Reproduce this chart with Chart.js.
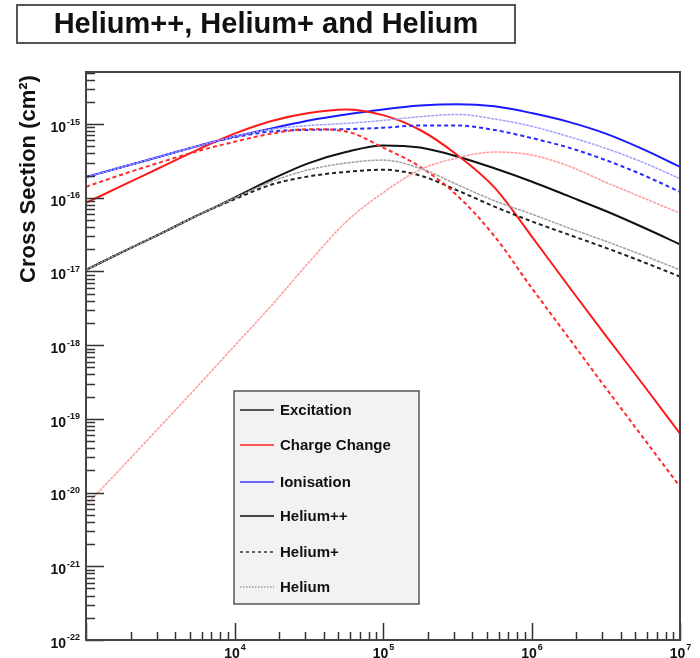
<!DOCTYPE html>
<html>
<head>
<meta charset="utf-8">
<script src="https://cdn.jsdelivr.net/npm/chart.js@4"></script>
<style>
  html, body { margin: 0; padding: 0; background: #ffffff; }
  #wrap { position: relative; width: 700px; height: 658px; overflow: hidden; }
</style>
</head>
<body>
<div id="wrap"><canvas id="c" width="700" height="658"></canvas></div>
<script>
// Projectile energy samples (eV), a quarter decade apart
const energies = [1000, 1778, 3162, 5623, 10000, 17783, 31623, 56234, 100000,
  177828, 316228, 562341, 1000000, 1778279, 3162278, 5623413, 10000000];

// Cross sections (cm^2) — excitation
const excHe2 = [1.05e-17, 1.86e-17, 3.24e-17, 5.75e-17, 1.0e-16, 1.78e-16, 2.95e-16, 4.17e-16, 5.13e-16,
  4.79e-16, 3.63e-16, 2.51e-16, 1.66e-16, 1.05e-16, 6.6e-17, 3.98e-17, 2.34e-17];
const excHe1 = [1.05e-17, 1.86e-17, 3.24e-17, 5.75e-17, 9.55e-17, 1.51e-16, 1.95e-16, 2.24e-16, 2.40e-16,
  2.0e-16, 1.26e-16, 7.59e-17, 4.79e-17, 3.16e-17, 2.09e-17, 1.35e-17, 8.5e-18];
const excHe0 = [1.05e-17, 1.86e-17, 3.24e-17, 5.75e-17, 9.9e-17, 1.66e-16, 2.4e-16, 2.95e-16, 3.24e-16,
  2.51e-16, 1.51e-16, 9.1e-17, 6.03e-17, 3.89e-17, 2.57e-17, 1.66e-17, 1.05e-17];

// Charge change
const ccHe2 = [8.5e-17, 1.48e-16, 2.57e-16, 4.47e-16, 7.41e-16, 1.10e-15, 1.41e-15, 1.58e-15, 1.32e-15,
  8.3e-16, 3.8e-16, 1.38e-16, 3.02e-17, 6.3e-18, 1.35e-18, 2.95e-19, 6.3e-20];
const ccHe1 = [1.41e-16, 2.09e-16, 3.02e-16, 4.27e-16, 5.75e-16, 7.41e-16, 8.51e-16, 7.94e-16, 4.79e-16,
  2.63e-16, 1.07e-16, 3.02e-17, 6.03e-18, 1.26e-18, 2.63e-19, 5.62e-20, 1.2e-20];
const ccHe0 = [6.76e-21, 2.29e-20, 7.94e-20, 2.75e-19, 9.77e-19, 3.47e-18, 1.32e-17, 4.68e-17, 1.17e-16,
  2.4e-16, 3.47e-16, 4.17e-16, 3.8e-16, 2.69e-16, 1.62e-16, 1.0e-16, 6.17e-17];

// Ionisation
const ionHe2 = [1.91e-16, 2.63e-16, 3.63e-16, 5.01e-16, 6.76e-16, 8.71e-16, 1.12e-15, 1.35e-15, 1.58e-15,
  1.78e-15, 1.86e-15, 1.74e-15, 1.41e-15, 1.07e-15, 7.41e-16, 4.57e-16, 2.63e-16];
const ionHe1 = [1.91e-16, 2.63e-16, 3.63e-16, 5.01e-16, 6.61e-16, 7.94e-16, 8.32e-16, 8.51e-16, 8.91e-16,
  9.55e-16, 9.55e-16, 8.32e-16, 6.46e-16, 4.79e-16, 3.24e-16, 2.04e-16, 1.2e-16];
const ionHe0 = [1.91e-16, 2.63e-16, 3.63e-16, 5.01e-16, 6.76e-16, 8.51e-16, 9.55e-16, 1.02e-15, 1.12e-15,
  1.26e-15, 1.35e-15, 1.17e-15, 9.33e-16, 6.76e-16, 4.68e-16, 3.02e-16, 1.82e-16];

// Axis decades that carry a label
const xDecades = [4, 5, 6, 7];
const yDecades = [-22, -21, -20, -19, -18, -17, -16, -15];

const titleText = 'Helium++, Helium+ and Helium';
const yTitle = 'Cross Section (cm²)';
const legendLabels = ['Excitation', 'Charge Change', 'Ionisation', 'Helium++', 'Helium+', 'Helium'];

const X_MIN = 1e3, X_MAX = 1e7, Y_MIN = 1e-22, Y_MAX = 5.08e-15;

function pts(arr) { return arr.map((v, i) => ({ x: energies[i], y: v })); }

const SOLID = [], DASH = [4, 3], DOT = [3, 1];
function ds(label, arr, color, dash, width) {
  return {
    label, data: pts(arr), borderColor: color, borderWidth: width,
    borderDash: dash, pointRadius: 0, fill: false,
    cubicInterpolationMode: 'monotone', borderCapStyle: 'butt'
  };
}

const datasets = [
  ds('Charge Change / Helium', ccHe0, '#ff9a9a', DOT, 1.5),
  ds('Ionisation / Helium', ionHe0, '#a0a0ff', DOT, 1.5),
  ds('Excitation / Helium', excHe0, '#a0a0a0', DOT, 1.5),
  ds('Charge Change / Helium+', ccHe1, '#ff2a2a', DASH, 2),
  ds('Ionisation / Helium+', ionHe1, '#2a2aff', DASH, 2),
  ds('Excitation / Helium+', excHe1, '#222222', DASH, 2),
  ds('Charge Change / Helium++', ccHe2, '#ff1a1a', SOLID, 2),
  ds('Ionisation / Helium++', ionHe2, '#1a1aff', SOLID, 2),
  ds('Excitation / Helium++', excHe2, '#111111', SOLID, 2)
];

const FONT = '"Liberation Sans", Arial, Helvetica, sans-serif';

// Frame, inward ticks, power-of-ten labels, title, legend
const decorations = {
  id: 'decorations',
  afterDraw(chart) {
    const ctx = chart.ctx;
    const xs = chart.scales.x, ys = chart.scales.y;
    const a = chart.chartArea;
    ctx.save();

    // ticks
    ctx.strokeStyle = '#333';
    ctx.lineWidth = 1.5;
    ctx.beginPath();
    for (let n = -22; n <= -15; n++) {
      for (let k = 1; k <= 9; k++) {
        const v = k * Math.pow(10, n);
        if (v < Y_MIN * 0.999 || v > Y_MAX * 1.001) continue;
        const py = Math.round(ys.getPixelForValue(v)) + 0.5;
        const len = k === 1 ? 18 : 9;
        ctx.moveTo(a.left, py); ctx.lineTo(a.left + len, py);
      }
    }
    for (let n = 3; n <= 7; n++) {
      for (let k = 1; k <= 9; k++) {
        const v = k * Math.pow(10, n);
        if (v < X_MIN * 0.999 || v > X_MAX * 1.001) continue;
        const px = Math.round(xs.getPixelForValue(v)) + 0.5;
        const len = k === 1 ? 17 : 8;
        ctx.moveTo(px, a.bottom); ctx.lineTo(px, a.bottom - len);
      }
    }
    ctx.stroke();

    // frame
    ctx.strokeStyle = '#444';
    ctx.lineWidth = 2;
    ctx.strokeRect(a.left, a.top, a.right - a.left, a.bottom - a.top);

    // y labels: 10 with superscript exponent, right aligned
    ctx.fillStyle = '#111';
    const base = 'bold 14px ' + FONT, sup = 'bold 9px ' + FONT;
    yDecades.forEach(n => {
      const py = ys.getPixelForValue(Math.pow(10, n));
      const e = String(n);
      ctx.font = sup; const we = ctx.measureText(e).width;
      ctx.font = base; const wb = ctx.measureText('10').width;
      const right = 80;
      ctx.textBaseline = 'middle'; ctx.textAlign = 'left';
      ctx.font = base; ctx.fillText('10', right - we - wb - 1, py + 4);
      ctx.font = sup; ctx.fillText(e, right - we, py - 2);
    });
    // x labels
    xDecades.forEach(n => {
      const px = xs.getPixelForValue(Math.pow(10, n));
      const e = String(n);
      ctx.font = sup; const we = ctx.measureText(e).width;
      ctx.font = base; const wb = ctx.measureText('10').width;
      const left = px - (wb + we) / 2;
      ctx.textBaseline = 'top'; ctx.textAlign = 'left';
      ctx.font = base; ctx.fillText('10', left, 647);
      ctx.font = sup; ctx.fillText(e, left + wb + 1, 643);
    });

    // y-axis title
    ctx.save();
    ctx.translate(29, 179);
    ctx.rotate(-Math.PI / 2);
    ctx.font = 'bold 22px ' + FONT;
    ctx.textAlign = 'center'; ctx.textBaseline = 'middle';
    ctx.fillStyle = '#111';
    ctx.fillText(yTitle, 0, 0);
    ctx.restore();

    // title box
    ctx.fillStyle = '#fff';
    ctx.fillRect(17, 5, 498, 38);
    ctx.strokeStyle = '#555'; ctx.lineWidth = 2;
    ctx.strokeRect(17, 5, 498, 38);
    ctx.fillStyle = '#111';
    ctx.font = 'bold 29px ' + FONT;
    ctx.textAlign = 'center'; ctx.textBaseline = 'middle';
    ctx.fillText(titleText, 266, 25);

    // legend
    const lx = 234, ly = 391, lw = 185, lh = 213;
    ctx.fillStyle = '#f2f2f2';
    ctx.fillRect(lx, ly, lw, lh);
    ctx.strokeStyle = '#555'; ctx.lineWidth = 1.5;
    ctx.strokeRect(lx, ly, lw, lh);
    const rows = [410, 445, 482, 516, 552, 587];
    const styles = [
      { c: '#555', d: SOLID, w: 2 },
      { c: '#ff5555', d: SOLID, w: 2 },
      { c: '#6666ff', d: SOLID, w: 2 },
      { c: '#444', d: SOLID, w: 2 },
      { c: '#333', d: [3, 3], w: 1.5 },
      { c: '#999', d: [1.5, 1.5], w: 1.5 }
    ];
    legendLabels.forEach((t, i) => {
      const y = rows[i];
      ctx.beginPath();
      ctx.setLineDash(styles[i].d);
      ctx.strokeStyle = styles[i].c; ctx.lineWidth = styles[i].w;
      ctx.moveTo(240, y); ctx.lineTo(274, y);
      ctx.stroke();
      ctx.setLineDash([]);
      ctx.fillStyle = '#111';
      ctx.font = 'bold 15px ' + FONT;
      ctx.textAlign = 'left'; ctx.textBaseline = 'middle';
      ctx.fillText(t, 280, y + 1);
    });

    ctx.restore();
  }
};

new Chart(document.getElementById('c'), {
  type: 'line',
  data: { datasets },
  options: {
    responsive: false,
    animation: false,
    devicePixelRatio: 1,
    layout: { padding: { left: 86, top: 72, right: 20, bottom: 18 } },
    plugins: { legend: { display: false }, tooltip: { enabled: false }, title: { display: false } },
    scales: {
      x: {
        type: 'logarithmic', min: X_MIN, max: X_MAX,
        grid: { display: false }, border: { display: false },
        ticks: { display: false },
        afterFit(s) { s.height = 0; }
      },
      y: {
        type: 'logarithmic', min: Y_MIN, max: Y_MAX,
        grid: { display: false }, border: { display: false },
        ticks: { display: false },
        afterFit(s) { s.width = 0; }
      }
    }
  },
  plugins: [decorations]
});
</script>
</body>
</html>
